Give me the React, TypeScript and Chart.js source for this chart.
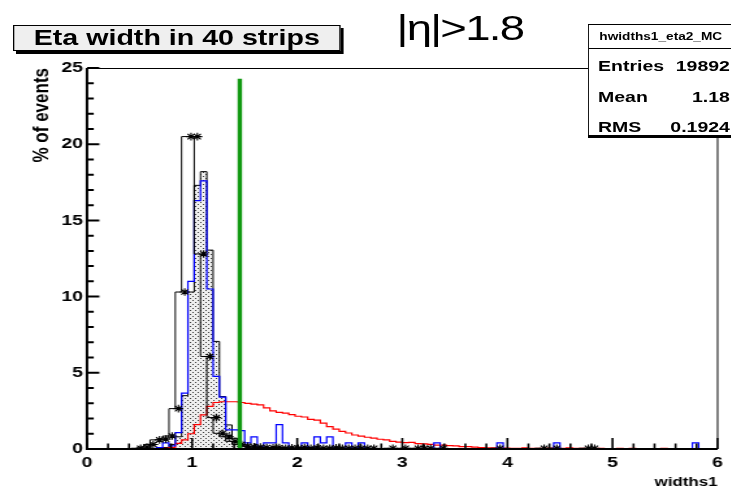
import React, { useEffect, useRef } from "react";
import { Chart, registerables } from "chart.js";

Chart.register(...registerables);

// ---------- data ----------
const BIN_WIDTH = 0.06;
const N_BINS = 100;
const X_MIN = 0;
const X_MAX = 6;
const Y_MIN = 0;
const Y_MAX = 25;
const X_TICK_STEP = 1;
const Y_TICK_STEP = 5;

// black open histogram with star markers (first bin index, values)
const blackStart = 8;
const blackValues = [
  0.05, 0.12, 0.3, 0.6, 0.65, 0.85, 2.65, 10.3, 20.5, 20.5,
  12.8, 6.07, 2.06, 1.03, 0.8, 0.5, 0.3, 0.2, 0.15, 0.12,
  0.1, 0.08, 0.1, 0.05, 0.08, 0.05, 0.1, 0.05, 0.08, 0.05,
  0.05, 0.08, 0.05, 0.05, 0.05, 0.05, 0.05, 0.05, 0, 0,
  0.05, 0, 0.05, 0, 0.05, 0.05, 0.05, 0, 0.05, 0,
  0, 0, 0, 0, 0, 0, 0, 0.05, 0, 0,
  0, 0, 0, 0, 0.05, 0, 0.05, 0, 0, 0,
  0, 0.05, 0.05,
];

// shaded (dotted) histogram
const shadedStart = 13;
const shadedValues = [
  0.1, 0.3, 0.8, 3.5, 10.3, 17.3, 18.2, 13.05, 7.06, 3.44,
  1.58, 0.7, 0.3, 0.15, 0.05,
];

// blue histogram
const blueStart = 12;
const blueValues = [
  0.1, 0.4, 0.2, 1.07, 3.66, 11.0, 16.3, 17.6, 10.5, 4.76,
  3.4, 1.25, 1.25, 1.2, 0.4, 0.8, 0, 0.4, 0.4, 1.6,
  0.4, 0, 0, 0.4, 0, 0.8, 0.4, 0.8, 0, 0,
  0.4, 0, 0.4, 0, 0, 0, 0, 0, 0, 0,
  0, 0, 0, 0, 0.4, 0, 0, 0, 0, 0,
  0, 0, 0, 0, 0.4, 0, 0, 0, 0, 0,
  0, 0, 0, 0.4, 0, 0, 0, 0, 0, 0,
  0, 0, 0, 0, 0, 0, 0, 0, 0, 0,
  0, 0, 0, 0, 0, 0.4,
];

// red histogram
const redStart = 13;
const redValues = [
  0.05, 0.1, 0.37, 0.6, 1.0, 1.6, 2.24, 2.8, 3.05, 3.1,
  3.1, 3.1, 3.05, 3.0, 2.95, 2.9, 2.7, 2.5, 2.4, 2.35,
  2.25, 2.15, 2.1, 1.95, 1.9, 1.7, 1.47, 1.3, 1.15, 1.05,
  0.92, 0.85, 0.77, 0.72, 0.64, 0.6, 0.5, 0.45, 0.42, 0.44,
  0.35, 0.33, 0.3, 0.26, 0.25, 0.22, 0.2, 0.15, 0.15, 0.12,
  0.1, 0.08, 0.08, 0.06, 0.06, 0.05, 0.05, 0.08, 0.05, 0.05,
  0.04, 0.06, 0.05, 0.04, 0.08, 0.05, 0.04, 0.03, 0.03, 0.05,
  0.03, 0.03, 0.04, 0.02, 0.04, 0.03, 0.02, 0.03, 0.02, 0.04,
  0.02, 0.02, 0.03, 0.02, 0.02, 0.03, 0.02,
];

// vertical cut line
const CUT_X = 1.454;
const CUT_TOP = 24.3;

// stats box
const STATS_NAME = "hwidths1_eta2_MC";
const STATS_ROWS: [string, string][] = [
  ["Entries", "19892"],
  ["Mean", "1.18"],
  ["RMS", "0.1924"],
];

// ---------- layout ----------
const SCREEN_W = 731;
const H = 492;
const SX = 1.3;
const W = SCREEN_W / SX;
const FONT = "'Liberation Sans', Arial, Helvetica, sans-serif";
const PLOT_LEFT = 87 / SX;
const PLOT_RIGHT = 718 / SX;
const PLOT_TOP = 68;
const PLOT_BOTTOM = 449;

function fullBins(start: number, values: number[]) {
  const full = new Array(N_BINS).fill(0);
  values.forEach((v, k) => {
    if (start + k < N_BINS) full[start + k] = v;
  });
  return full;
}

function histPoints(start: number, values: number[]) {
  const full = fullBins(start, values);
  const pts: { x: number; y: number }[] = [{ x: X_MIN, y: 0 }];
  for (let i = 0; i < N_BINS; i++) pts.push({ x: X_MIN + i * BIN_WIDTH, y: full[i] });
  pts.push({ x: X_MIN + N_BINS * BIN_WIDTH, y: full[N_BINS - 1] });
  return pts;
}

function markerPoints(start: number, values: number[]) {
  const full = fullBins(start, values);
  const pts: { x: number; y: number }[] = [];
  for (let i = 0; i < N_BINS; i++)
    if (full[i] > 0) pts.push({ x: X_MIN + (i + 0.5) * BIN_WIDTH, y: full[i] });
  return pts;
}

const framePlugin = {
  id: "rootFrame",
  afterDatasetsDraw(chart: any) {
    const { ctx, chartArea: a, scales } = chart;
    const xs = scales.x;
    const ys = scales.y;
    ctx.save();
    ctx.strokeStyle = "#000";
    // top & right thin lines
    ctx.lineWidth = 1;
    ctx.beginPath();
    ctx.moveTo(a.left, a.top + 0.5);
    ctx.lineTo(a.right, a.top + 0.5);
    ctx.moveTo(a.right, a.top);
    ctx.lineTo(a.right, a.bottom);
    ctx.stroke();
    // axes
    ctx.lineWidth = 2;
    ctx.beginPath();
    ctx.moveTo(a.left, a.top);
    ctx.lineTo(a.left, a.bottom);
    ctx.lineTo(a.right, a.bottom);
    ctx.stroke();
    // x ticks
    ctx.lineWidth = 1.6;
    ctx.beginPath();
    const nx = Math.round((X_MAX - X_MIN) / (X_TICK_STEP / 5));
    for (let k = 0; k <= nx; k++) {
      const v = X_MIN + (k * X_TICK_STEP) / 5;
      const px = xs.getPixelForValue(v);
      const len = k % 5 === 0 ? 11 : 5.5;
      ctx.moveTo(px, a.bottom);
      ctx.lineTo(px, a.bottom - len);
    }
    ctx.stroke();
    // y ticks
    ctx.lineWidth = 2;
    ctx.beginPath();
    const ny = Math.round((Y_MAX - Y_MIN) / (Y_TICK_STEP / 5));
    for (let k = 0; k <= ny; k++) {
      const v = Y_MIN + (k * Y_TICK_STEP) / 5;
      const py = ys.getPixelForValue(v);
      const len = k % 5 === 0 ? 9.5 : 5.2;
      ctx.moveTo(a.left, py);
      ctx.lineTo(a.left + len, py);
    }
    ctx.stroke();
    ctx.restore();
  },
};

export default function App() {
  const ref = useRef<HTMLCanvasElement>(null);

  useEffect(() => {
    const canvas = ref.current!;
    const pc = document.createElement("canvas");
    pc.width = 4;
    pc.height = 4;
    const pctx = pc.getContext("2d")!;
    pctx.fillStyle = "#eeeeee";
    pctx.fillRect(0, 0, 4, 4);
    pctx.fillStyle = "#404040";
    pctx.fillRect(0, 0, 1, 1);
    pctx.fillRect(2, 2, 1, 1);
    const pattern = canvas.getContext("2d")!.createPattern(pc, "repeat");

    const chart = new Chart(canvas, {
      type: "line",
      data: {
        datasets: [
          {
            label: "cut",
            data: [
              { x: CUT_X, y: 0 },
              { x: CUT_X, y: CUT_TOP },
            ],
            borderColor: "#119911",
            borderWidth: 3.4,
            pointRadius: 0,
            order: 0,
          },
          {
            label: "markers",
            data: markerPoints(blackStart, blackValues),
            showLine: false,
            pointStyle: "star",
            pointRadius: 3.8,
            pointBorderColor: "#000",
            pointBorderWidth: 1.1,
            pointBackgroundColor: "#000",
            order: 1,
          },
          {
            label: "black",
            data: histPoints(blackStart, blackValues),
            stepped: "after",
            borderColor: "#000",
            borderWidth: 1,
            pointRadius: 0,
            fill: false,
            order: 2,
          },
          {
            label: "blue",
            data: histPoints(blueStart, blueValues),
            stepped: "after",
            borderColor: "#0000ff",
            borderWidth: 1.2,
            pointRadius: 0,
            fill: false,
            order: 3,
          },
          {
            label: "red",
            data: histPoints(redStart, redValues),
            stepped: "after",
            borderColor: "#ff0000",
            borderWidth: 1.2,
            pointRadius: 0,
            fill: false,
            order: 4,
          },
          {
            label: "shaded",
            data: histPoints(shadedStart, shadedValues),
            stepped: "after",
            borderColor: "#000",
            borderWidth: 1,
            pointRadius: 0,
            fill: "origin",
            backgroundColor: pattern as any,
            order: 5,
          },
        ],
      },
      options: {
        responsive: false,
        animation: false,
        devicePixelRatio: 1,
        layout: {
          padding: { left: 0, top: PLOT_TOP, right: W - PLOT_RIGHT, bottom: 0 },
        },
        plugins: {
          legend: { display: false },
          tooltip: { enabled: false },
        },
        elements: { line: { tension: 0 } },
        scales: {
          x: {
            type: "linear",
            min: X_MIN,
            max: X_MAX,
            grid: { display: false, drawTicks: false },
            border: { display: false },
            ticks: {
              stepSize: X_TICK_STEP,
              color: "#000",
              padding: 5,
              font: { family: FONT, size: 15, weight: "bold" },
            },
            title: {
              display: true,
              text: "widths1",
              align: "end",
              color: "#000",
              font: { family: FONT, size: 13, weight: "bold" },
              padding: { top: 0, bottom: 2 },
            },
            afterFit(scale: any) {
              scale.height = H - PLOT_BOTTOM;
            },
          },
          y: {
            type: "linear",
            min: Y_MIN,
            max: Y_MAX,
            grid: { display: false, drawTicks: false },
            border: { display: false },
            ticks: {
              stepSize: Y_TICK_STEP,
              color: "#000",
              padding: 3,
              font: { family: FONT, size: 15, weight: "bold" },
            },
            title: {
              display: true,
              text: "% of events",
              align: "end",
              color: "#000",
              font: { family: FONT, size: 17, weight: "bold" },
              padding: { top: 22, bottom: 0 },
            },
            afterFit(scale: any) {
              scale.width = PLOT_LEFT;
            },
          },
        },
      },
      plugins: [framePlugin],
    } as any);

    return () => chart.destroy();
  }, []);

  return (
    <div
      style={{
        position: "fixed",
        left: 0,
        top: 0,
        width: SCREEN_W,
        height: H,
        overflow: "hidden",
        background: "#fff",
      }}
    >
      <div
        style={{
          position: "absolute",
          left: 0,
          top: 0,
          width: W,
          height: H,
          transform: `scaleX(${SCREEN_W / W})`,
          transformOrigin: "0 0",
        }}
      >
        <canvas ref={ref} width={W} height={H} style={{ display: "block", width: W, height: H }} />
        {/* title box */}
        <div
          style={{
            position: "absolute",
            left: 10,
            top: 25,
            width: 250,
            height: 24,
            background: "#efefef",
            border: "1px solid #000",
            boxShadow: "2.3px 3px 0 #000",
            font: `bold 22px ${FONT}`,
            lineHeight: "24px",
            textAlign: "center",
            color: "#000",
            whiteSpace: "nowrap",
          }}
        >
          Eta width in 40 strips
        </div>
        {/* eta label */}
        <div
          style={{
            position: "absolute",
            left: 305,
            top: 10,
            font: `35px ${FONT}`,
            lineHeight: "35px",
            letterSpacing: "-1.3px",
            color: "#000",
            whiteSpace: "nowrap",
          }}
        >
          |η|&gt;1.8
        </div>
        {/* stats box */}
        <div
          style={{
            position: "absolute",
            left: 452,
            top: 24,
            width: 130,
            height: 110,
            background: "#fff",
            border: "1px solid #000",
            boxShadow: "0 2px 0 #000",
            color: "#000",
          }}
        >
          <div
            style={{
              position: "absolute",
              left: 0,
              top: 0,
              width: "100%",
              height: 23,
              borderBottom: "1px solid #000",
              font: `bold 10.5px ${FONT}`,
              lineHeight: "23px",
              paddingLeft: 8,
              whiteSpace: "nowrap",
            }}
          >
            {STATS_NAME}
          </div>
          {STATS_ROWS.map(([k, v], i) => (
            <div
              key={k}
              style={{
                position: "absolute",
                left: 0,
                top: 33 + i * 30.5,
                width: 108.5,
                height: 15,
                font: `bold 15px ${FONT}`,
                lineHeight: "15px",
                whiteSpace: "nowrap",
              }}
            >
              <span style={{ position: "absolute", left: 7 }}>{k}</span>
              <span style={{ position: "absolute", right: 0 }}>{v}</span>
            </div>
          ))}
        </div>
      </div>
    </div>
  );
}
